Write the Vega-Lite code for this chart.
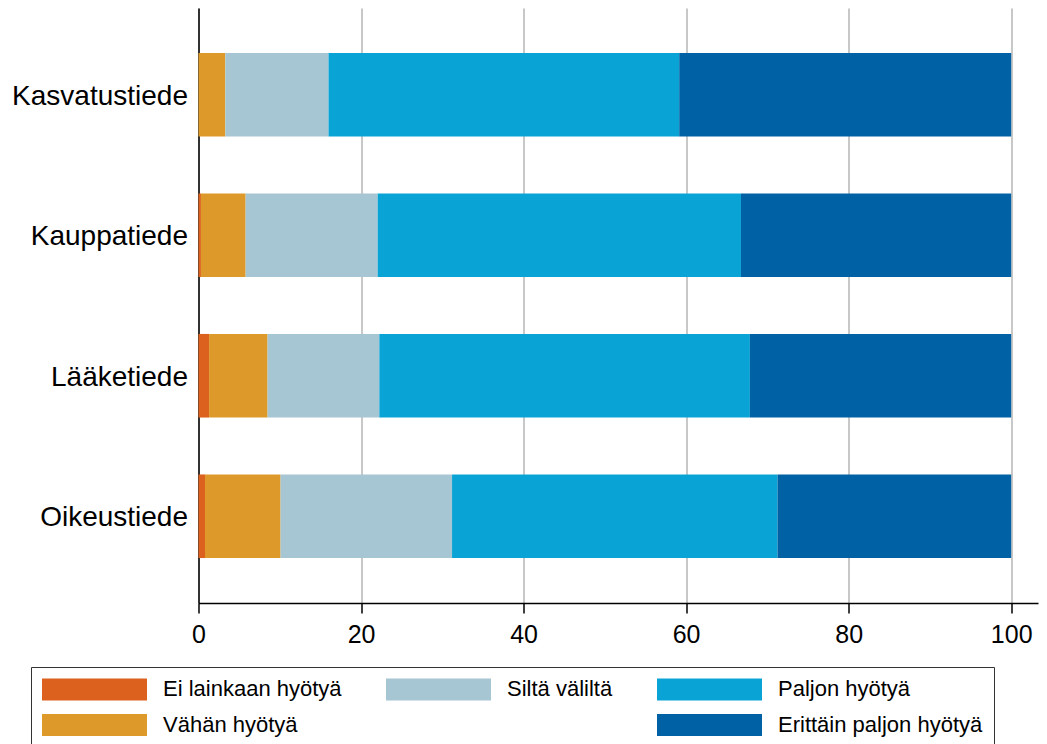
{
  "$schema": "https://vega.github.io/schema/vega-lite/v6.json",
  "width": 839.5,
  "height": 595,
  "autosize": "none",
  "padding": {"left": 198.5, "top": 8, "right": 9, "bottom": 141},
  "background": "white",
  "config": {"font": "Liberation Sans", "view": {"stroke": null}},
  "data": {"values": [
    {"ala": "Kasvatustiede", "vastaus": "Ei lainkaan hyötyä", "arvo": 1, "osuus": 0},
    {"ala": "Kasvatustiede", "vastaus": "Vähän hyötyä", "arvo": 2, "osuus": 3.3},
    {"ala": "Kasvatustiede", "vastaus": "Siltä väliltä", "arvo": 3, "osuus": 12.7},
    {"ala": "Kasvatustiede", "vastaus": "Paljon hyötyä", "arvo": 4, "osuus": 43.15},
    {"ala": "Kasvatustiede", "vastaus": "Erittäin paljon hyötyä", "arvo": 5, "osuus": 40.85},
    {"ala": "Kauppatiede", "vastaus": "Ei lainkaan hyötyä", "arvo": 1, "osuus": 0.3},
    {"ala": "Kauppatiede", "vastaus": "Vähän hyötyä", "arvo": 2, "osuus": 5.5},
    {"ala": "Kauppatiede", "vastaus": "Siltä väliltä", "arvo": 3, "osuus": 16.25},
    {"ala": "Kauppatiede", "vastaus": "Paljon hyötyä", "arvo": 4, "osuus": 44.7},
    {"ala": "Kauppatiede", "vastaus": "Erittäin paljon hyötyä", "arvo": 5, "osuus": 33.25},
    {"ala": "Lääketiede", "vastaus": "Ei lainkaan hyötyä", "arvo": 1, "osuus": 1.3},
    {"ala": "Lääketiede", "vastaus": "Vähän hyötyä", "arvo": 2, "osuus": 7.2},
    {"ala": "Lääketiede", "vastaus": "Siltä väliltä", "arvo": 3, "osuus": 13.75},
    {"ala": "Lääketiede", "vastaus": "Paljon hyötyä", "arvo": 4, "osuus": 45.6},
    {"ala": "Lääketiede", "vastaus": "Erittäin paljon hyötyä", "arvo": 5, "osuus": 32.15},
    {"ala": "Oikeustiede", "vastaus": "Ei lainkaan hyötyä", "arvo": 1, "osuus": 0.8},
    {"ala": "Oikeustiede", "vastaus": "Vähän hyötyä", "arvo": 2, "osuus": 9.3},
    {"ala": "Oikeustiede", "vastaus": "Siltä väliltä", "arvo": 3, "osuus": 21.1},
    {"ala": "Oikeustiede", "vastaus": "Paljon hyötyä", "arvo": 4, "osuus": 40.05},
    {"ala": "Oikeustiede", "vastaus": "Erittäin paljon hyötyä", "arvo": 5, "osuus": 28.75}
  ]},
  "mark": {"type": "bar"},
  "encoding": {
    "y": {
      "field": "ala", "type": "nominal",
      "sort": ["Kasvatustiede", "Kauppatiede", "Lääketiede", "Oikeustiede"],
      "scale": {"paddingInner": 0.405, "paddingOuter": 0.32},
      "axis": {"title": null, "domainColor": "black", "domainWidth": 1.5, "ticks": false,
               "labelFontSize": 28, "labelPadding": 11, "labelColor": "black", "grid": false,
               "labelOffset": 2}
    },
    "x": {
      "field": "osuus", "type": "quantitative", "stack": "zero",
      "scale": {"domain": [0, 103.3], "nice": false},
      "axis": {"title": null, "values": [0, 20, 40, 60, 80, 100], "grid": true,
               "gridColor": "#c8c8c8", "gridWidth": 2, "tickSize": 10, "tickColor": "black",
               "tickWidth": 1.5, "domainColor": "black", "domainWidth": 1.5,
               "labelFontSize": 25, "labelColor": "black", "labelPadding": 9, "labelFlush": false}
    },
    "order": {"field": "arvo", "type": "quantitative", "sort": "ascending"},
    "color": {
      "field": "vastaus", "type": "nominal",
      "scale": {
        "domain": ["Ei lainkaan hyötyä", "Vähän hyötyä", "Siltä väliltä", "-", "Paljon hyötyä", "Erittäin paljon hyötyä"],
        "range": ["#dc611e", "#dd9a2b", "#a5c6d2", "white", "#09a4d5", "#0062a4"]
      },
      "legend": {
        "title": null, "orient": "none", "legendX": -167.5, "legendY": 659,
        "direction": "vertical", "columns": 3,
        "symbolType": "M-5,-1.05H5V1.05H-5Z", "symbolSize": 441, "symbolOffset": 41.5,
        "symbolStrokeWidth": 0, "labelFontSize": 22, "labelColor": "black", "labelOffset": 57.5,
        "columnPadding": 44, "rowPadding": 12, "padding": 11,
        "strokeColor": "#333333", "labelLimit": 400,
        "labelExpr": "datum.label == '-' ? '' : datum.label"
      }
    }
  }
}
